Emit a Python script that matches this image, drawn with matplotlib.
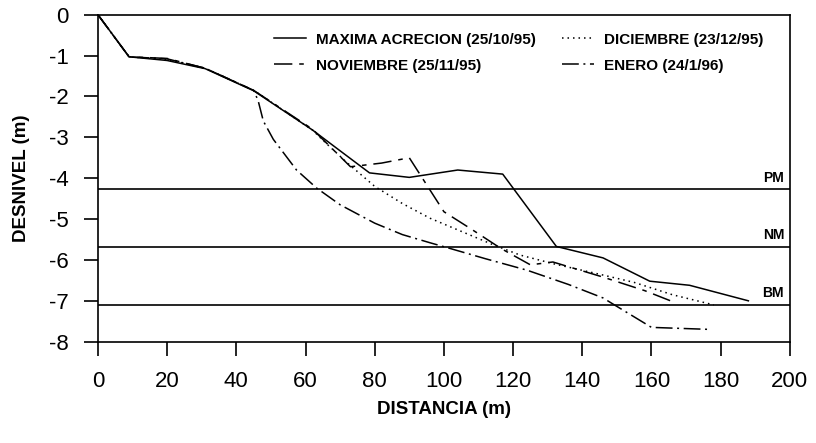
import matplotlib
matplotlib.use("Agg")
import matplotlib.pyplot as plt

plt.rcParams['font.family'] = ['Liberation Sans', 'DejaVu Sans']
plt.rcParams['axes.unicode_minus'] = False

# ---- data ----
dist_max = [0, 9, 20, 31, 45, 62, 70, 78.5, 90, 104, 117, 132.5, 146, 159.5, 171, 188]
desn_max = [0, -1.03, -1.12, -1.32, -1.86, -2.82, -3.33, -3.87, -3.98, -3.80, -3.90, -5.67, -5.95, -6.52, -6.62, -7.0]

dist_nov = [0, 9, 20, 31, 45, 62, 73, 82, 90, 100, 108, 116.5, 125, 131.5, 146, 158, 167]
desn_nov = [0, -1.03, -1.07, -1.31, -1.85, -2.8, -3.72, -3.63, -3.5, -4.82, -5.25, -5.72, -6.12, -6.05, -6.42, -6.75, -7.05]

dist_dic = [0, 9, 20, 31, 45, 62, 66, 72, 80, 88, 96, 105, 114, 122, 132, 145, 155, 166, 178]
desn_dic = [0, -1.03, -1.1, -1.31, -1.85, -2.82, -3.15, -3.62, -4.2, -4.62, -4.98, -5.3, -5.62, -5.88, -6.1, -6.35, -6.55, -6.85, -7.1]

dist_ene = [0, 9, 20, 31, 45, 46.3, 47.8, 50.7, 57.4, 63.2, 70, 80, 88, 96, 101, 112, 124, 136, 146, 148.5, 160, 177]
desn_ene = [0, -1.03, -1.08, -1.31, -1.85, -2.1, -2.6, -3.05, -3.8, -4.24, -4.65, -5.1, -5.38, -5.58, -5.7, -5.97, -6.25, -6.6, -6.93, -7.06, -7.65, -7.7]

series_labels = ["MAXIMA ACRECION (25/10/95)", "NOVIEMBRE (25/11/95)",
                 "DICIEMBRE (23/12/95)", "ENERO (24/1/96)"]

tide_levels = [-4.27, -5.68, -7.1]
tide_labels = ["PM", "NM", "BM"]

x_ticks = [0, 20, 40, 60, 80, 100, 120, 140, 160, 180, 200]
y_ticks = [0, -1, -2, -3, -4, -5, -6, -7, -8]

# ---- figure ----
fig = plt.figure(figsize=(8.16, 4.43), dpi=100)
ax = fig.add_axes([0.120, 0.2287, 0.848, 0.7381])

lw = 1.1
l1, = ax.plot(dist_max, desn_max, color='black', lw=lw, ls='-')
l2, = ax.plot(dist_nov, desn_nov, color='black', lw=lw, dashes=(12, 4.5, 3, 4.5))
l3, = ax.plot(dist_dic, desn_dic, color='black', lw=lw, dashes=(1.0, 2.6))
l4, = ax.plot(dist_ene, desn_ene, color='black', lw=lw, dashes=(11, 3, 1.3, 3))

for lev, lab in zip(tide_levels, tide_labels):
    ax.axhline(lev, color='black', lw=1.2)
    ax.text(198.3, lev + 0.11, lab, ha='right', va='bottom',
            fontsize=10, fontweight='bold')

ax.set_xlim(0, 200)
ax.set_ylim(-8, 0)
ax.set_xticks(x_ticks)
ax.set_yticks(y_ticks)
ax.set_xticklabels([str(v) for v in x_ticks])
ax.set_yticklabels([str(v) for v in y_ticks])
ax.tick_params(axis='both', direction='out', length=10, width=1.2,
               labelsize=16, pad=11)
for s in ax.spines.values():
    s.set_linewidth(1.2)

ax.set_xlabel("DISTANCIA (m)", fontsize=13.5, fontweight='bold')
ax.set_ylabel("DESNIVEL (m)", fontsize=13.5, fontweight='bold')
ax.xaxis.set_label_coords(0.5, -0.18)
ax.yaxis.set_label_coords(-0.098, 0.5)

leg = ax.legend([l1, l2, l3, l4], series_labels, ncol=2, frameon=False,
                loc='upper left', bbox_to_anchor=(0.254, 0.945),
                prop={'weight': 'bold', 'size': 11},
                handlelength=2.1, handletextpad=0.65, columnspacing=1.7,
                labelspacing=0.78, borderaxespad=0, borderpad=0)

fig.savefig("out.png", dpi=100)
